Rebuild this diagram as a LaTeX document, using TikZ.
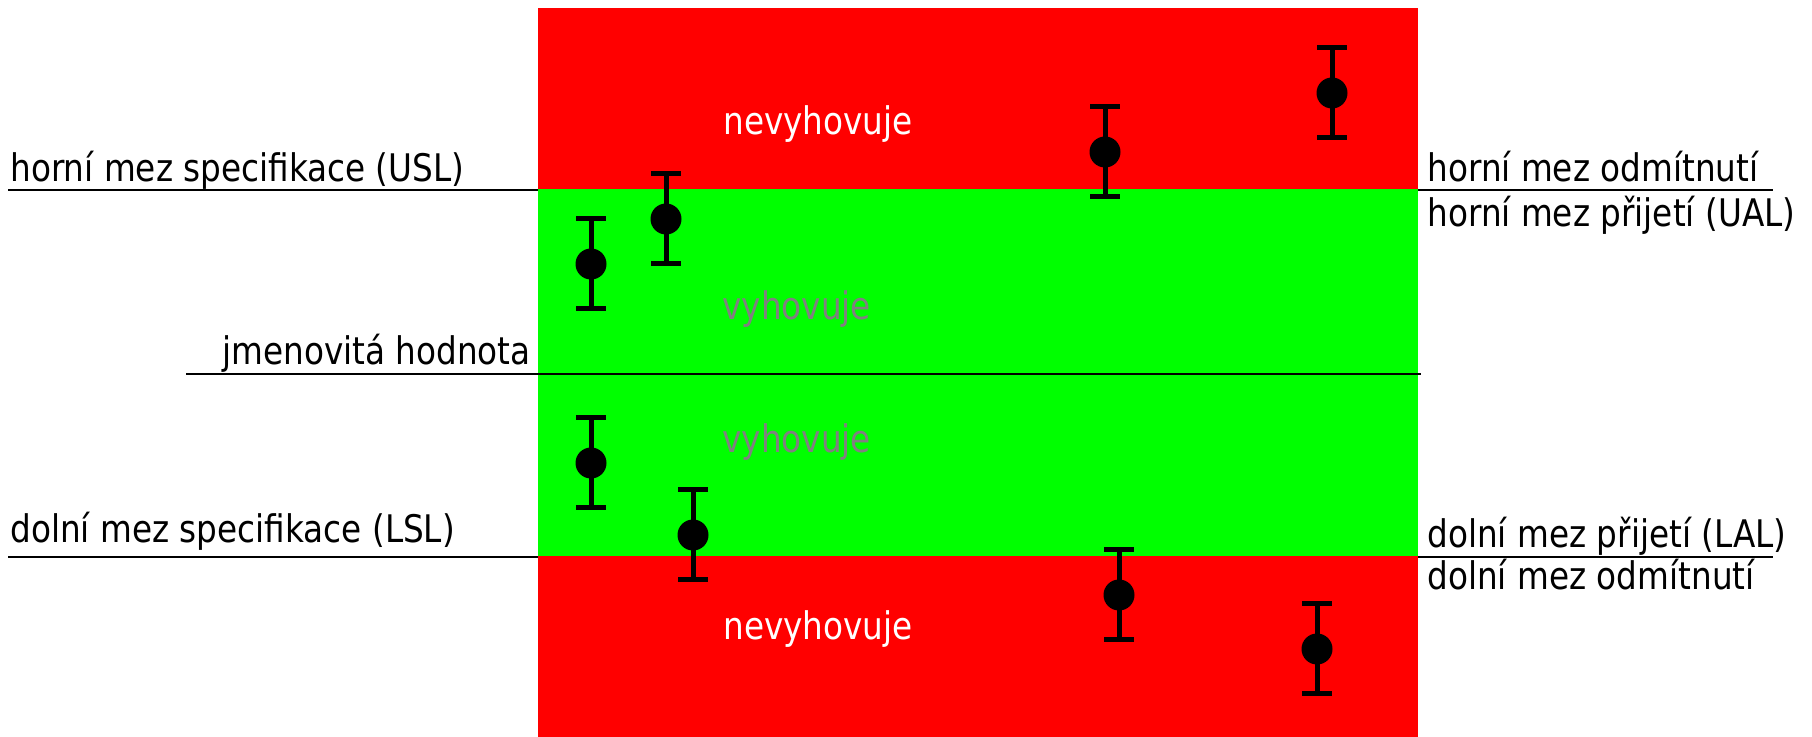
\documentclass[tikz,border=0pt]{standalone}
\usepackage{fontspec}
\setmainfont{DejaVu Sans}[FakeStretch=0.86]
\definecolor{zonered}{RGB}{255,0,0}
\definecolor{zonegreen}{RGB}{0,255,0}
\definecolor{zonegray}{RGB}{128,128,128}
\begin{document}
\begin{tikzpicture}[x=0.5pt,y=-0.5pt,
  label/.style={anchor=base west,inner sep=0pt,font=\fontsize{19pt}{23pt}\selectfont},
  fail/.style={label,text=white},
  pass/.style={label,text=zonegray},
  limit/.style={draw=black,line width=1pt},
  errbar/.pic={
    \draw[line width=2.5pt] (0,-45) -- (0,45);
    \draw[line width=2.5pt] (-15,-45) -- (15,-45);
    \draw[line width=2.5pt] (-15,45) -- (15,45);
    \fill (0,0) circle[radius=7.75pt];
  }]
\useasboundingbox (0,0) rectangle (1812,737);

% zones
\fill[zonered] (538,8) rectangle (1418,737);
\fill[zonegreen] (538,189) rectangle (1418,556);

% limit lines
\coordinate (uslA) at (8,190);   \coordinate (uslB) at (538,190);
\coordinate (urA) at (1418,190); \coordinate (urB) at (1773,190);
\coordinate (lslA) at (8,557);   \coordinate (lslB) at (538,557);
\coordinate (lrA) at (1418,557); \coordinate (lrB) at (1773,557);
\coordinate (nomA) at (186,374); \coordinate (nomB) at (1421,374);
\draw[limit] (uslA) -- (uslB);
\draw[limit] (urA) -- (urB);
\draw[limit] (lslA) -- (lslB);
\draw[limit] (lrA) -- (lrB);
\draw[limit] (nomA) -- (nomB);

% labels
\node[label] (usl) at (10,182) {horní mez specifikace (USL)};
\node[label] (urej) at (1427,182) {horní mez odmítnutí};
\node[label] (ual) at (1427,227) {horní mez přijetí (UAL)};
\node[label] (nom) at (222,365) {jmenovitá hodnota};
\node[label] (lsl) at (10,543) {dolní mez specifikace (LSL)};
\node[label] (lal) at (1427,548) {dolní mez přijetí (LAL)};
\node[label] (lrej) at (1427,590) {dolní mez odmítnutí};

\node[fail] (failtop) at (723,135) {nevyhovuje};
\node[fail] (failbot) at (723,640) {nevyhovuje};
\node[pass] (passtop) at (722,320) {vyhovuje};
\node[pass] (passbot) at (722,453) {vyhovuje};

% measurements with uncertainty
\pic (m1) at (591,264) {errbar};
\pic (m2) at (666,219) {errbar};
\pic (m3) at (1105,152) {errbar};
\pic (m4) at (1332,93) {errbar};
\pic (m5) at (591,463) {errbar};
\pic (m6) at (693,535) {errbar};
\pic (m7) at (1119,595) {errbar};
\pic (m8) at (1317,649) {errbar};
\end{tikzpicture}
\end{document}
